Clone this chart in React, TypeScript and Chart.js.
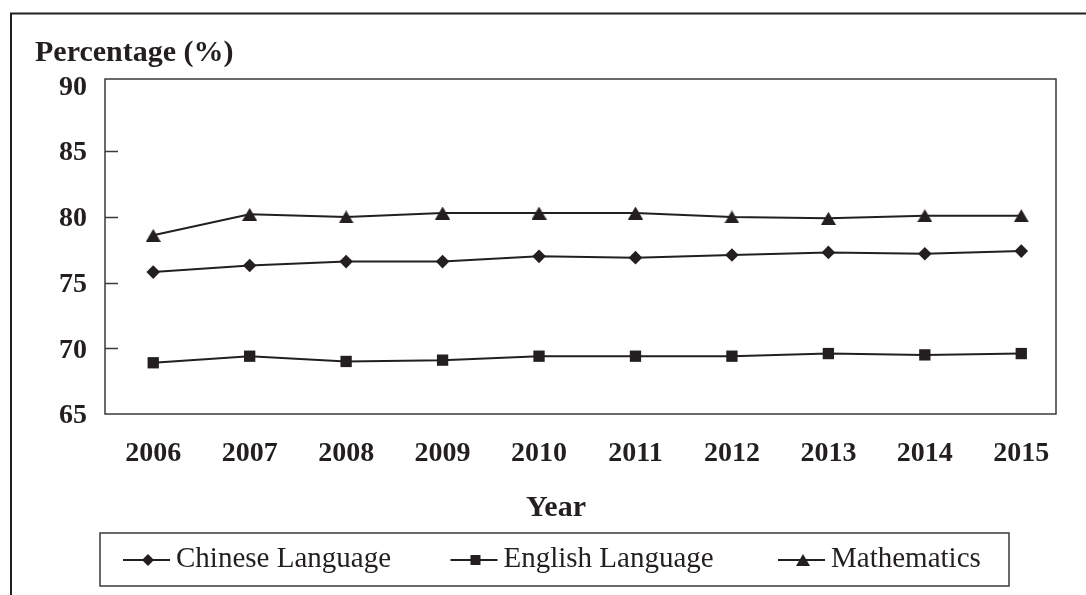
import React, { useEffect, useRef } from 'react';
import { Chart, registerables } from 'chart.js';

Chart.register(...registerables);

// Academic years shown on the horizontal axis
const years = [2006, 2007, 2008, 2009, 2010, 2011, 2012, 2013, 2014, 2015];

// Percentage per subject
const chineseLanguage = [75.8, 76.3, 76.6, 76.6, 77.0, 76.9, 77.1, 77.3, 77.2, 77.4];
const englishLanguage = [68.9, 69.4, 69.0, 69.1, 69.4, 69.4, 69.4, 69.6, 69.5, 69.6];
const mathematics = [78.6, 80.2, 80.0, 80.3, 80.3, 80.3, 80.0, 79.9, 80.1, 80.1];

const yTickValues = [65, 70, 75, 80, 85, 90];
const seriesLabels = ['Chinese Language', 'English Language', 'Mathematics'];
const seriesMarkers = ['diamond', 'square', 'triangle'];

const INK = '#231f20';
const SERIF = "'Liberation Serif', 'Times New Roman', serif";

function makeTriangle(w: number, h: number): HTMLCanvasElement {
  const c = document.createElement('canvas');
  c.width = w;
  c.height = h;
  const g = c.getContext('2d')!;
  g.fillStyle = INK;
  g.beginPath();
  g.moveTo(w / 2, 0);
  g.lineTo(w, h);
  g.lineTo(0, h);
  g.closePath();
  g.fill();
  return c;
}

function drawMarker(ctx: CanvasRenderingContext2D, kind: string, x: number, y: number) {
  ctx.beginPath();
  if (kind === 'diamond') {
    const r = 6;
    ctx.moveTo(x, y - r);
    ctx.lineTo(x + r, y);
    ctx.lineTo(x, y + r);
    ctx.lineTo(x - r, y);
  } else if (kind === 'square') {
    const h = 5;
    ctx.rect(x - h, y - h, 2 * h, 2 * h);
  } else {
    const w = 14;
    const h = 12;
    ctx.moveTo(x, y - h / 2);
    ctx.lineTo(x + w / 2, y + h / 2);
    ctx.lineTo(x - w / 2, y + h / 2);
  }
  ctx.closePath();
  ctx.fill();
}

const decorations = {
  id: 'decorations',
  afterDraw(chart: any) {
    const { ctx, chartArea: a, scales } = chart;
    const yScale = scales.y;
    ctx.save();

    // page frame (top and left rules)
    ctx.strokeStyle = INK;
    ctx.lineWidth = 2;
    ctx.beginPath();
    ctx.moveTo(11, 595);
    ctx.lineTo(11, 13.5);
    ctx.lineTo(1086, 13.5);
    ctx.stroke();

    // plot area border
    ctx.strokeStyle = '#3a3a3a';
    ctx.lineWidth = 1.5;
    ctx.strokeRect(a.left, a.top, a.right - a.left, a.bottom - a.top);

    // inward tick marks on the value axis
    ctx.beginPath();
    for (const v of yTickValues) {
      if (v === yTickValues[0] || v === yTickValues[yTickValues.length - 1]) continue;
      const py = Math.round(yScale.getPixelForValue(v)) + 0.5;
      ctx.moveTo(a.left, py);
      ctx.lineTo(a.left + 13, py);
    }
    ctx.stroke();

    // axis titles
    ctx.fillStyle = INK;
    ctx.textBaseline = 'middle';
    ctx.font = `bold 30px ${SERIF}`;
    ctx.textAlign = 'left';
    ctx.fillText('Percentage (%)', 35, 53);
    ctx.textAlign = 'center';
    ctx.fillText('Year', 556, 508);

    // legend
    ctx.strokeStyle = '#3a3a3a';
    ctx.lineWidth = 1.5;
    ctx.strokeRect(100, 533, 909, 53);
    const ly = 560;
    ctx.font = `29px ${SERIF}`;
    ctx.textAlign = 'left';
    chart.data.datasets.forEach((ds: any, i: number) => {
      const x0 = 123 + i * 327.5;
      ctx.strokeStyle = INK;
      ctx.lineWidth = 2;
      ctx.beginPath();
      ctx.moveTo(x0, ly);
      ctx.lineTo(x0 + 47, ly);
      ctx.stroke();
      ctx.fillStyle = INK;
      drawMarker(ctx, seriesMarkers[i], x0 + 25, ly);
      ctx.fillText(ds.label, x0 + 53, ly - 1);
    });

    ctx.restore();
  },
};

export default function App() {
  const canvasRef = useRef<HTMLCanvasElement | null>(null);

  useEffect(() => {
    if (!canvasRef.current) return;
    const triangle = makeTriangle(15, 13);
    const values = [chineseLanguage, englishLanguage, mathematics];
    const styles: any[] = ['rectRot', 'rect', triangle];
    const radii = [6.8, 8, 7];

    const chart = new Chart(canvasRef.current, {
      type: 'line',
      data: {
        datasets: values.map((arr, i) => ({
          label: seriesLabels[i],
          data: years.map((yr, j) => ({ x: yr, y: arr[j] })),
          borderColor: INK,
          backgroundColor: INK,
          borderWidth: 2,
          pointStyle: styles[i],
          pointRadius: radii[i],
          pointBorderWidth: 0,
          pointBackgroundColor: INK,
          tension: 0,
        })),
      },
      options: {
        responsive: false,
        animation: false,
        layout: { padding: { top: 79, right: 30, left: 0, bottom: 0 } },
        plugins: {
          legend: { display: false },
          title: { display: false },
          tooltip: { enabled: false },
        },
        scales: {
          x: {
            type: 'linear',
            min: years[0] - 0.5,
            max: years[years.length - 1] + 0.36,
            afterBuildTicks: (s: any) => {
              s.ticks = years.map((v) => ({ value: v }));
            },
            afterFit: (s: any) => {
              s.height = 181;
            },
            grid: { display: false, drawTicks: false },
            border: { display: false },
            ticks: {
              callback: (v: any) => String(v),
              autoSkip: false,
              maxRotation: 0,
              padding: 23,
              color: INK,
              font: { family: SERIF, size: 28, weight: 'bold' },
            },
          },
          y: {
            min: 65,
            max: 90.5,
            afterBuildTicks: (s: any) => {
              s.ticks = yTickValues.map((v) => ({ value: v }));
            },
            afterFit: (s: any) => {
              s.width = 105;
            },
            grid: { display: false, drawTicks: false },
            border: { display: false },
            ticks: {
              padding: 18,
              labelOffset: 2,
              color: INK,
              font: { family: SERIF, size: 28, weight: 'bold' },
            },
          },
        },
      } as any,
      plugins: [decorations],
    });

    return () => chart.destroy();
  }, []);

  return (
    <div style={{ position: 'absolute', left: 0, top: 0, width: 1086, height: 595, background: '#fff' }}>
      <canvas ref={canvasRef} width={1086} height={595} style={{ display: 'block' }} />
    </div>
  );
}
